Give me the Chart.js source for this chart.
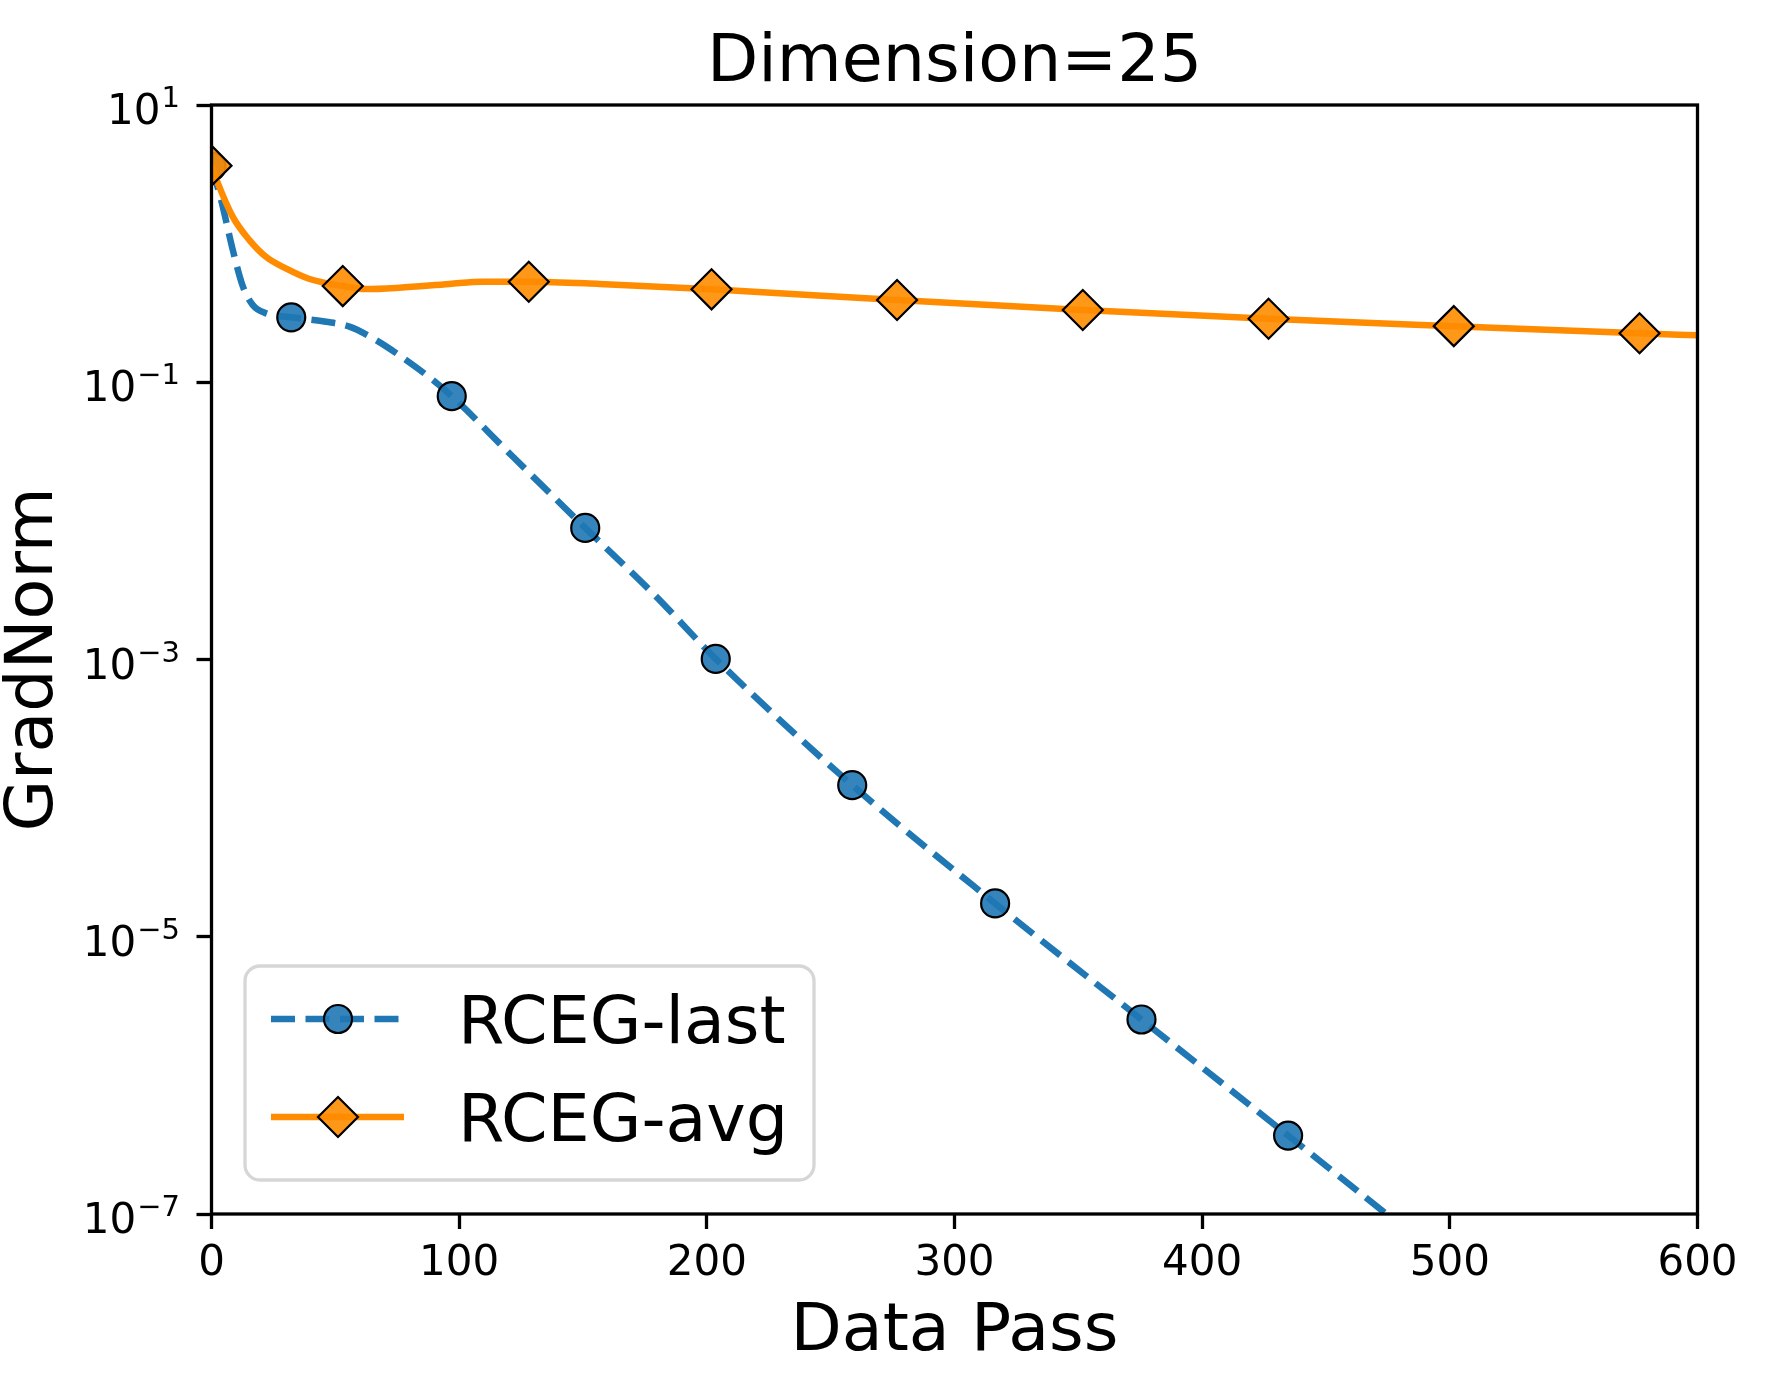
<!DOCTYPE html>
<html>
<head>
<meta charset="utf-8">
<script src="https://cdn.jsdelivr.net/npm/chart.js@4.4.0/dist/chart.umd.min.js"></script>
<style>
  html, body { margin: 0; padding: 0; background: #fff; }
  #wrap { width: 1766px; height: 1395px; }
</style>
</head>
<body>
<div id="wrap"><canvas id="chart" width="1766" height="1395"></canvas></div>
<script>
const titleText = "Dimension=25";
const xLabel = "Data Pass";
const yLabel = "GradNorm";
const seriesNames = ["RCEG-last", "RCEG-avg"];
const xTicks = [0, 100, 200, 300, 400, 500, 600];
const yTickExps = [-7, -5, -3, -1, 1];

// RCEG-last (blue, dashed, circles)
const lastX = [0, 3.9, 8.6, 12.7, 16.7, 22.1, 32.2, 46.3, 55.7, 66.5, 78.6, 89.4, 97.0, 121.7, 150.9, 178.9, 203.6, 258.7, 316.4, 375.5, 434.7, 500];
const lastY = [3.6, 2.06, 0.899, 0.489, 0.360, 0.314, 0.294, 0.273, 0.252, 0.201, 0.1445, 0.1037, 0.0794, 0.029, 0.0089, 0.00292, 1.01e-3, 1.24e-4, 1.74e-5, 2.53e-6, 3.68e-7, 4.3e-8];
const lastMarks = [0, 6, 12, 14, 16, 17, 18, 19, 20];

// RCEG-avg (orange, solid, diamonds)
const avgX = [0, 2.6, 8.6, 15.3, 22.1, 30.2, 39.6, 53.0, 62.5, 75.9, 96.1, 109.6, 128.1, 156.7, 201.9, 276.8, 351.8, 426.8, 501.6, 576.6, 600];
const avgY = [3.65, 2.72, 1.56, 1.06, 0.80, 0.66, 0.556, 0.494, 0.470, 0.481, 0.512, 0.531, 0.531, 0.512, 0.468, 0.392, 0.332, 0.287, 0.254, 0.2255, 0.218];
const avgMarks = [0, 7, 12, 14, 15, 16, 17, 18, 19];

const FONT = '"DejaVu Sans", sans-serif';
const BLUE = "#1f77b4";
const ORANGE = "#ff8c00";

const tickGrid = { drawOnChartArea: false, drawTicks: true, tickLength: 15, tickWidth: 3.3, tickColor: "#000" };

// draws frame, tick labels, titles and the legend
const decor = {
  id: "decor",
  afterDatasetsDraw(chart) {
    const { ctx, chartArea: a } = chart;
    ctx.save();
    ctx.strokeStyle = "#000";
    ctx.lineWidth = 3.3;
    ctx.strokeRect(a.left, a.top, a.right - a.left, a.bottom - a.top);
    ctx.restore();
  },
  afterDraw(chart) {
    const { ctx, chartArea: a, scales } = chart;
    ctx.save();
    ctx.fillStyle = "#000";
    ctx.textBaseline = "alphabetic";

    // x tick labels
    ctx.font = "42px " + FONT;
    ctx.textAlign = "center";
    xTicks.forEach(v => ctx.fillText(String(v), scales.x.getPixelForValue(v), 1275));

    // y tick labels 10^e
    yTickExps.forEach(e => {
      const py = scales.y.getPixelForValue(Math.pow(10, e));
      const sup = e < 0 ? "\u2212" + (-e) : String(e);
      ctx.font = "29px " + FONT;
      const supW = ctx.measureText(sup).width;
      const right = 180;
      ctx.textAlign = "left";
      ctx.fillText(sup, right - supW, py + 2);
      ctx.font = "42px " + FONT;
      ctx.textAlign = "right";
      ctx.fillText("10", right - supW - 1, py + 19);
    });

    // title and axis labels
    const cx = (a.left + a.right) / 2;
    ctx.font = "66.7px " + FONT;
    ctx.textAlign = "center";
    ctx.fillText(titleText, cx, 81);
    ctx.fillText(xLabel, cx, 1350);
    ctx.save();
    ctx.translate(52, (a.top + a.bottom) / 2);
    ctx.rotate(-Math.PI / 2);
    ctx.fillText(yLabel, 0, 0);
    ctx.restore();

    // legend
    const L = { left: 245, top: 966, right: 814, bottom: 1180, r: 15 };
    ctx.beginPath();
    ctx.roundRect(L.left, L.top, L.right - L.left, L.bottom - L.top, L.r);
    ctx.fillStyle = "rgba(255,255,255,0.8)";
    ctx.fill();
    ctx.strokeStyle = "#d6d6d6";
    ctx.lineWidth = 3.3;
    ctx.stroke();

    const rows = [1019, 1117];
    chart.data.datasets.forEach((ds, i) => {
      const y = rows[i];
      ctx.save();
      ctx.strokeStyle = ds.borderColor;
      ctx.lineWidth = ds.borderWidth;
      ctx.setLineDash(ds.borderDash || []);
      ctx.beginPath();
      ctx.moveTo(271, y);
      ctx.lineTo(404, y);
      ctx.stroke();
      ctx.restore();

      ctx.beginPath();
      const mx = 338;
      if (ds.pointStyle === "rectRot") {
        const r = ds.markerSize;
        ctx.moveTo(mx - r, y); ctx.lineTo(mx, y - r); ctx.lineTo(mx + r, y); ctx.lineTo(mx, y + r);
        ctx.closePath();
      } else {
        ctx.arc(mx, y, ds.markerSize, 0, Math.PI * 2);
      }
      ctx.fillStyle = ds.pointBackgroundColor;
      ctx.fill();
      ctx.strokeStyle = "#000";
      ctx.lineWidth = 2.2;
      ctx.stroke();

      ctx.fillStyle = "#000";
      ctx.font = "66.7px " + FONT;
      ctx.textAlign = "left";
      ctx.fillText(seriesNames[i], 458, y + 24);
    });
    ctx.restore();
  }
};

new Chart(document.getElementById("chart"), {
  type: "line",
  data: {
    datasets: [
      {
        label: seriesNames[0],
        data: lastX.map((x, i) => ({ x, y: lastY[i] })),
        borderColor: BLUE,
        borderWidth: 6.5,
        borderDash: [24, 10.5],
        borderJoinStyle: "round",
        cubicInterpolationMode: "monotone",
        pointStyle: "circle",
        markerSize: 14,
        pointRadius: ctx => lastMarks.includes(ctx.dataIndex) ? 14 : 0,
        pointBackgroundColor: "rgba(31,119,180,0.9)",
        pointBorderColor: "#000",
        pointBorderWidth: 2.2,
        clip: 0,
        order: 2
      },
      {
        label: seriesNames[1],
        data: avgX.map((x, i) => ({ x, y: avgY[i] })),
        borderColor: ORANGE,
        borderWidth: 6.5,
        borderJoinStyle: "round",
        cubicInterpolationMode: "monotone",
        pointStyle: "rectRot",
        markerSize: 20,
        pointRadius: ctx => avgMarks.includes(ctx.dataIndex) ? 20 : 0,
        pointBackgroundColor: "rgba(255,140,0,0.9)",
        pointBorderColor: "#000",
        pointBorderWidth: 2.2,
        clip: 0,
        order: 1
      }
    ]
  },
  options: {
    responsive: false,
    animation: false,
    devicePixelRatio: 1,
    layout: { padding: { top: 105, right: 68.5, bottom: 0, left: 0 } },
    plugins: { legend: { display: false }, title: { display: false }, tooltip: { enabled: false } },
    scales: {
      x: {
        type: "linear",
        min: 0,
        max: 600,
        afterBuildTicks: s => { s.ticks = xTicks.map(v => ({ value: v })); },
        afterFit: s => { s.height = 181; },
        ticks: { display: false },
        grid: tickGrid,
        border: { display: false }
      },
      y: {
        type: "logarithmic",
        min: 1e-7,
        max: 10,
        afterBuildTicks: s => { s.ticks = yTickExps.map(e => ({ value: Math.pow(10, e) })); },
        afterFit: s => { s.width = 211.5; },
        ticks: { display: false },
        grid: tickGrid,
        border: { display: false }
      }
    }
  },
  plugins: [decor]
});
</script>
</body>
</html>
